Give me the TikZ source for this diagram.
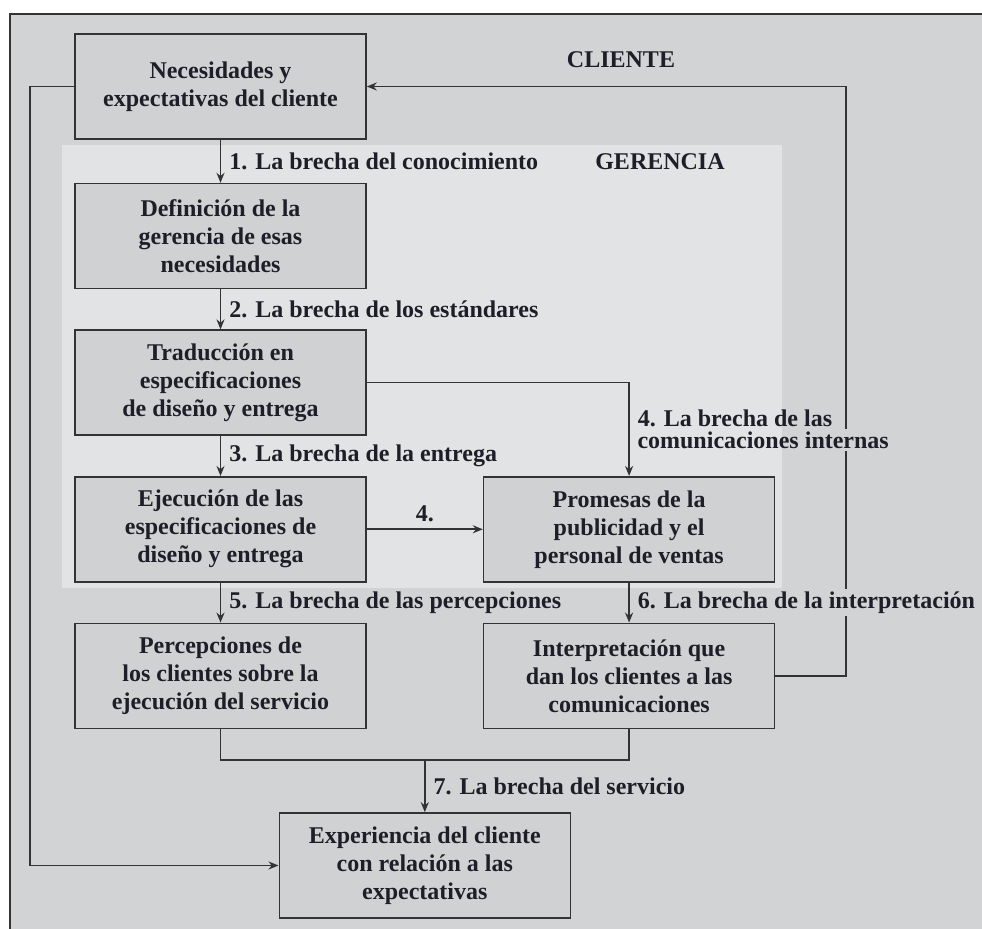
\documentclass[tikz,border=0pt]{standalone}
\usepackage{fontspec}
\setmainfont{Liberation Serif}
\usepackage{tikz}
\usetikzlibrary{arrows.meta, positioning, calc}
\definecolor{clientebg}{HTML}{D2D3D5}
\definecolor{gerenciabg}{HTML}{E2E3E5}
\definecolor{boxfill}{HTML}{D0D1D3}
\definecolor{inkdark}{HTML}{1E1E28}
\definecolor{linegray}{HTML}{333333}

\begin{document}
\begin{tikzpicture}[
  x=0.5pt, y=-0.5pt,
  node distance=20pt,
  every node/.style={text=inkdark, font=\fontsize{12}{14}\selectfont\bfseries},
  etapa/.style={draw=linegray, line width=0.8pt, fill=boxfill, minimum width=145.5pt, minimum height=52.5pt, align=center, inner sep=2pt},
  brecha/.style={right, inner sep=1pt, xshift=3pt, align=left},
  arr/.style={-{Stealth[length=5pt, width=4pt]}, draw=linegray, line width=0.8pt},
  linea/.style={draw=linegray, line width=0.8pt},
]
  \useasboundingbox (0,0) rectangle (982,929);
  % fondos
  \fill[white] (0,0) rectangle (982,929);
  \draw[linea, fill=clientebg] (10,14) rectangle (1000,950);
  \fill[gerenciabg] (62,145) rectangle (782,588);
  \node (cliente) at (621,60) {CLIENTE};
  \node (gerencia) at (660,162) {GERENCIA};

  \node[etapa] (nec) at (220.5,86.5) {Necesidades y\\expectativas del cliente};
  \node[etapa, below=21.5pt of nec] (def) {Definición de la\\gerencia de esas\\necesidades};
  \node[etapa, below=of def] (trad) {Traducción en\\especificaciones\\de diseño y entrega};
  \node[etapa, below=of trad] (ejec) {Ejecución de las\\especificaciones de\\diseño y entrega};
  \node[etapa, right=58pt of ejec] (prom) {Promesas de la\\publicidad y el\\personal de ventas};
  \node[etapa, below=of ejec] (perc) {Percepciones de\\los clientes sobre la\\ejecución del servicio};
  \node[etapa, below=of prom] (inter) {Interpretación que\\dan los clientes a las\\comunicaciones};
  \coordinate (jn) at ($(perc.south)!0.5!(inter.south) + (0,-15.5pt)$);
  \node[etapa, below=26pt of jn] (exp) {Experiencia del cliente\\con relación a las\\expectativas};

  \draw[arr] (nec) -- node[brecha] {1. La brecha del conocimiento} (def);
  \draw[arr] (def) -- node[brecha] {2. La brecha de los estándares} (trad);
  \draw[arr] (trad) -- node[brecha] {3. La brecha de la entrega} (ejec);
  \draw[arr] (trad.east) -| node[pos=0.75, anchor=south west, inner sep=1pt, xshift=3pt] (l4a) {4. La brecha de las} (prom.north);
  \node[anchor=north west, inner sep=1pt] (l4b) at (l4a.south west) {comunicaciones internas};
  \draw[arr] (ejec) -- node[above] {4.} (prom);
  \draw[arr] (ejec) -- node[brecha] {5. La brecha de las percepciones} (perc);
  \draw[arr] (prom) -- node[brecha] (l6) {6. La brecha de la interpretación} (inter);
  \draw[linea] (perc.south) |- (jn) -| (inter.south);
  \draw[arr] (jn) -- node[brecha] {7. La brecha del servicio} (exp.north);

  % retornos
  \draw[arr] (nec.west) -- ++(-22pt,0) |- (exp.west);
  \coordinate (fb) at (846,88);
  \draw[linea] (inter.east) -| (l6.south -| fb);
  \draw[linea] (l6.north -| fb) -- (l4b.south -| fb);
  \draw[arr] (l4b.north -| fb) |- (nec.east);
\end{tikzpicture}
\end{document}
